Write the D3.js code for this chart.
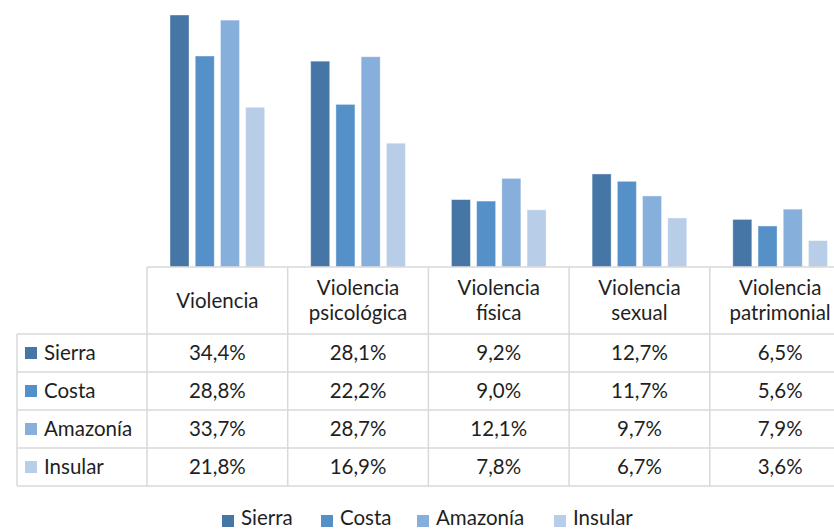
<!DOCTYPE html>
<html>
<head>
<meta charset="utf-8">
<script src="https://cdn.jsdelivr.net/npm/d3@7"></script>
<style>
  html, body { margin: 0; padding: 0; background: #fff; }
  svg { display: block; }
  text { font-family: Lato, "Open Sans", sans-serif; fill: #1f1f1f; }
</style>
</head>
<body>
<svg id="chart" width="834" height="529"></svg>
<script>
// ---- data ----
const categories = ["Violencia", "Violencia psicológica", "Violencia física", "Violencia sexual", "Violencia patrimonial"];
const categoryLines = [["Violencia"], ["Violencia", "psicológica"], ["Violencia", "física"], ["Violencia", "sexual"], ["Violencia", "patrimonial"]];
const seriesNames = ["Sierra", "Costa", "Amazonía", "Insular"];
const sierra   = [34.4, 28.1, 9.2, 12.7, 6.5];
const costa    = [28.8, 22.2, 9.0, 11.7, 5.6];
const amazonia = [33.7, 28.7, 12.1, 9.7, 7.9];
const insular  = [21.8, 16.9, 7.8, 6.7, 3.6];
const seriesValues = [sierra, costa, amazonia, insular];
const colors = ["#4676A6", "#5591C8", "#86AFDC", "#B8CDE8"];

// ---- layout ----
const svg = d3.select("#chart");
const tableLeft = 17, colStart = 147, colWidth = 140.7;
const baseY = 267, headerBottom = 334, rowH = 38;
const fontSize = 20.5;

const x0 = d3.scaleBand()
  .domain(categories)
  .range([colStart, colStart + colWidth * categories.length])
  .paddingInner(0).paddingOuter(0);
const x1 = d3.scaleBand()
  .domain(seriesNames)
  .range([23, colWidth - 23])
  .paddingInner(0.245).paddingOuter(0);
const y = d3.scaleLinear().domain([0, 40]).range([baseY, baseY - 40 * 7.326]);

const fmt = v => v.toFixed(1).replace(".", ",") + "%";

// ---- bars ----
const gBars = svg.append("g");
categories.forEach((c, ci) => {
  seriesNames.forEach((s, si) => {
    const v = seriesValues[si][ci];
    gBars.append("rect")
      .attr("x", x0(c) + x1(s))
      .attr("y", y(v))
      .attr("width", x1.bandwidth())
      .attr("height", y(0) - y(v))
      .attr("fill", colors[si])
      .attr("stroke", "#ffffff")
      .attr("stroke-opacity", 0.5)
      .attr("stroke-width", 0.8);
  });
});

// ---- table grid ----
const grid = svg.append("g").attr("stroke", "#d9d9d9").attr("stroke-width", 1.5).attr("fill", "none");
const tableRight = colStart + colWidth * categories.length;
const tableBottom = headerBottom + rowH * seriesNames.length;
grid.append("line").attr("x1", colStart).attr("x2", tableRight).attr("y1", baseY).attr("y2", baseY);
for (let r = 0; r <= seriesNames.length; r++) {
  const yy = headerBottom + r * rowH;
  grid.append("line").attr("x1", tableLeft).attr("x2", tableRight).attr("y1", yy).attr("y2", yy);
}
grid.append("line").attr("x1", tableLeft).attr("x2", tableLeft).attr("y1", headerBottom).attr("y2", tableBottom);
for (let c = 0; c <= categories.length; c++) {
  const xx = colStart + c * colWidth;
  grid.append("line").attr("x1", xx).attr("x2", xx).attr("y1", baseY).attr("y2", tableBottom);
}

// ---- header texts ----
categories.forEach((c, ci) => {
  const cx = x0(c) + x0.bandwidth() / 2;
  const lines = categoryLines[ci];
  const t = svg.append("text").attr("text-anchor", "middle").attr("font-size", fontSize);
  const lh = 25;
  const midY = (baseY + headerBottom) / 2;
  const firstBase = midY + 7 - (lines.length - 1) * lh / 2;
  lines.forEach((ln, li) => {
    t.append("tspan").attr("x", cx).attr("y", firstBase + li * lh).text(ln);
  });
});

// ---- row labels and values ----
seriesNames.forEach((s, si) => {
  const cy = headerBottom + si * rowH + rowH / 2;
  svg.append("rect").attr("x", 25).attr("y", cy - 6).attr("width", 12).attr("height", 12).attr("fill", colors[si]);
  svg.append("text").attr("x", 44).attr("y", cy + 7).attr("font-size", fontSize).text(s);
  categories.forEach((c, ci) => {
    svg.append("text")
      .attr("x", x0(c) + x0.bandwidth() / 2)
      .attr("y", cy + 7)
      .attr("text-anchor", "middle")
      .attr("font-size", fontSize)
      .text(fmt(seriesValues[si][ci]));
  });
});

// ---- legend ----
const legendX = [222, 321, 417, 554];
const legend = svg.append("g");
seriesNames.forEach((s, si) => {
  legend.append("rect").attr("x", legendX[si]).attr("y", 515).attr("width", 12).attr("height", 12).attr("fill", colors[si]);
  legend.append("text").attr("x", legendX[si] + 19).attr("y", 525).attr("font-size", fontSize).text(s);
});
</script>
</body>
</html>
